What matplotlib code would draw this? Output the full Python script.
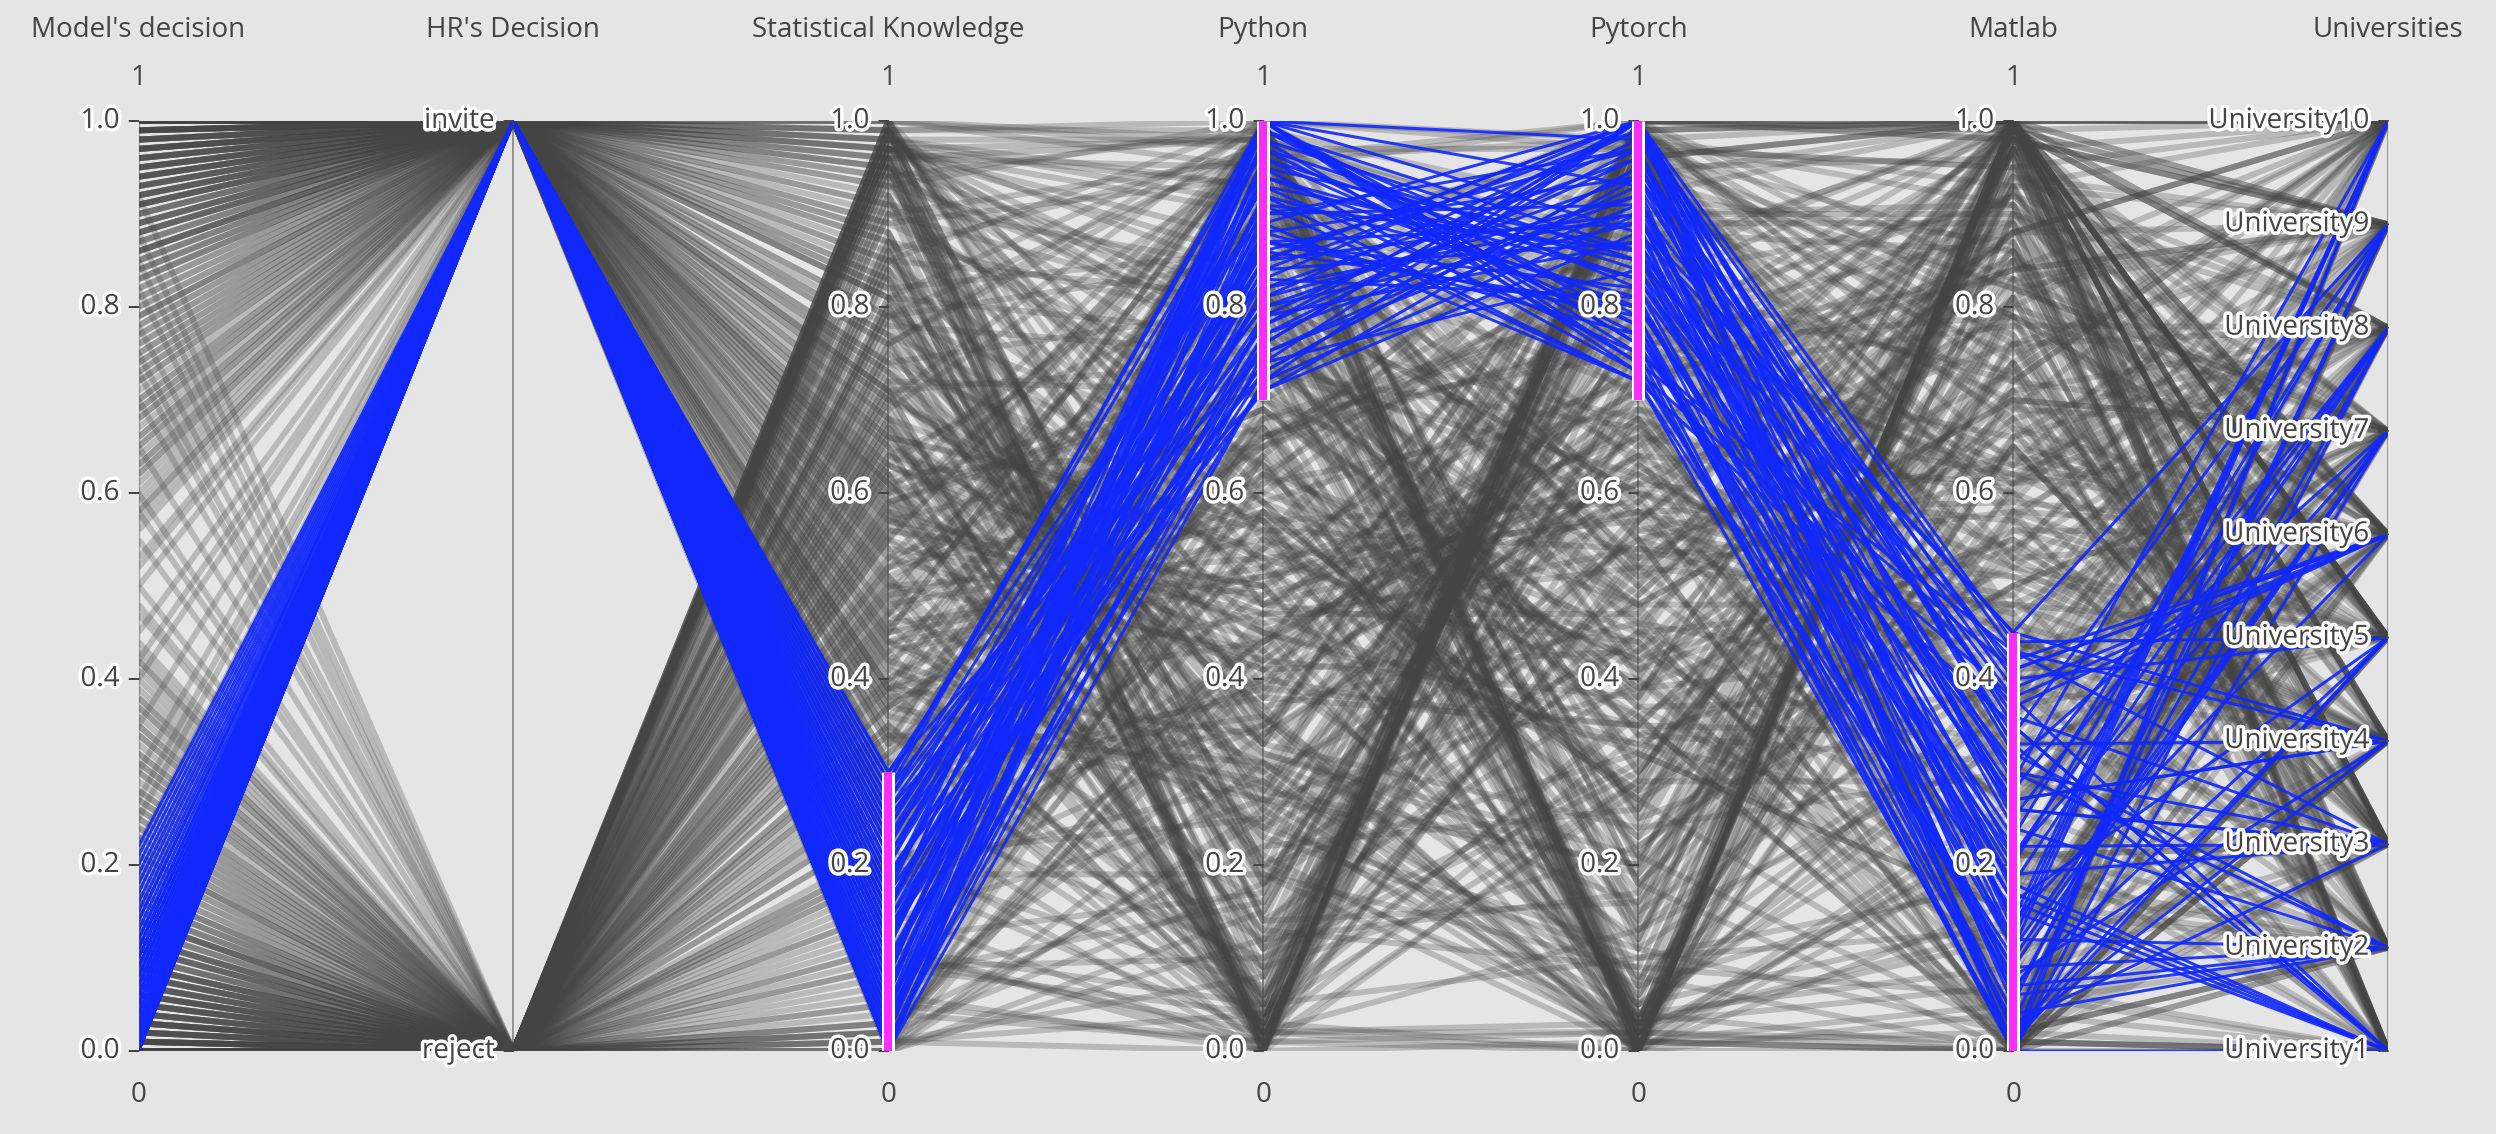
import numpy as np
import matplotlib.pyplot as plt
import matplotlib.patheffects as pe

plt.rcParams['font.family'] = ['Open Sans', 'DejaVu Sans']

axis_titles = ["Model's decision", "HR's Decision", "Statistical Knowledge",
               "Python", "Pytorch", "Matlab", "Universities"]
numeric_ticks = [0.0, 0.2, 0.4, 0.6, 0.8, 1.0]
hr_labels = ["reject", "invite"]
uni_labels = ["University%d" % i for i in range(1, 11)]

# brushed ranges (axis index, low, high)
brush_axes = [2, 3, 4, 5]
brush_low = [0.0, 0.70, 0.70, 0.0]
brush_high = [0.30, 1.0, 1.0, 0.45]

# ---- context (unselected) rows, skills in percent ----
model_gray = [
    98, 95, 100, 87, 92, 76, 99, 64, 90, 97, 83, 100, 71, 94, 88, 12, 96, 79, 99, 91,
    85, 100, 68, 93, 97, 58, 89, 100, 30, 95, 81, 99, 74, 92, 98, 86, 100, 62, 94, 45,
    97, 90, 100, 78, 84, 96, 22, 99, 70, 93, 100, 88, 66, 95, 91, 98, 35, 82, 100, 77,
    94, 99, 60, 87, 96, 100, 73, 18, 92, 98, 85, 100, 69, 94, 50, 97, 89, 100, 80, 93,
    99, 65, 96, 100, 84, 91, 8, 98, 75, 95, 100, 88, 57, 97, 92, 99, 40, 86, 100, 72,
    95, 98, 63, 90, 100, 79, 94, 27, 97, 83, 100, 91, 67, 96, 99, 86, 52, 93, 100, 89,
    2, 5, 0, 13, 8, 24, 1, 36, 10, 3, 17, 0, 29, 6, 12, 88, 4, 21, 1, 9,
    15, 0, 32, 7, 3, 42, 11, 0, 70, 5, 19, 1, 26, 8, 2, 14, 0, 38, 6, 55,
    3, 10, 0, 22, 16, 4, 78, 1, 30, 7, 0, 12, 34, 5, 9, 2, 65, 18, 0, 23,
    6, 1, 40, 13, 4, 0, 27, 82, 8, 2, 15, 0, 31, 6, 50, 3, 11, 0, 20, 7,
    1, 35, 4, 0, 16, 9, 92, 2, 25, 5, 0, 12, 43, 3, 8, 1, 60, 14, 0, 28,
    5, 2, 37, 10, 0, 21, 6, 73, 3, 17, 0, 9, 33, 4, 1, 14, 48, 7, 0, 11]
hr_gray = [
    1, 1, 1, 1, 1, 1, 1, 1, 1, 1, 1, 1, 1, 1, 1, 1, 1, 1, 1, 1,
    1, 1, 1, 1, 1, 1, 1, 1, 1, 1, 1, 1, 1, 1, 1, 1, 1, 1, 1, 1,
    1, 1, 1, 1, 1, 1, 1, 1, 1, 1, 1, 1, 1, 1, 1, 1, 1, 1, 1, 1,
    1, 1, 1, 1, 1, 1, 1, 1, 1, 1, 1, 1, 1, 1, 1, 1, 1, 1, 1, 1,
    1, 1, 1, 1, 1, 1, 1, 1, 1, 1, 1, 1, 1, 1, 1, 1, 1, 1, 1, 1,
    1, 1, 1, 1, 1, 1, 1, 1, 1, 1, 1, 1, 1, 1, 1, 1, 1, 1, 1, 1,
    0, 0, 0, 0, 0, 0, 0, 0, 0, 0, 0, 0, 0, 0, 0, 0, 0, 0, 0, 0,
    0, 0, 0, 0, 0, 0, 0, 0, 0, 0, 0, 0, 0, 0, 0, 0, 0, 0, 0, 0,
    0, 0, 0, 0, 0, 0, 0, 0, 0, 0, 0, 0, 0, 0, 0, 0, 0, 0, 0, 0,
    0, 0, 0, 0, 0, 0, 0, 0, 0, 0, 0, 0, 0, 0, 0, 0, 0, 0, 0, 0,
    0, 0, 0, 0, 0, 0, 0, 0, 0, 0, 0, 0, 0, 0, 0, 0, 0, 0, 0, 0,
    0, 0, 0, 0, 0, 0, 0, 0, 0, 0, 0, 0, 0, 0, 0, 0, 0, 0, 0, 0]
stat_gray = [
    99, 43, 7, 81, 56, 1, 92, 28, 65, 97, 14, 73, 38, 88, 51, 3, 22, 97, 61, 33,
    76, 100, 9, 47, 84, 19, 58, 98, 3, 70, 41, 95, 26, 0, 67, 53, 96, 12, 79, 35,
    90, 62, 2, 45, 99, 17, 83, 31, 71, 6, 94, 55, 24, 87, 1, 49, 93, 39, 64, 100,
    11, 77, 44, 97, 29, 86, 2, 60, 98, 36, 4, 72, 15, 99, 52, 81, 27, 68, 95, 8,
    57, 98, 34, 91, 0, 63, 20, 85, 46, 100, 74, 5, 39, 96, 59, 13, 89, 2, 42, 78,
    99, 25, 66, 1, 94, 37, 97, 50, 18, 82, 61, 100, 4, 71, 30, 96, 3, 54, 98, 23,
    48, 0, 87, 16, 95, 69, 32, 99, 9, 75, 2, 58, 92, 21, 100, 44, 80, 3, 63, 97,
    35, 98, 12, 79, 1, 51, 97, 26, 99, 67, 40, 5, 85, 14, 96, 56, 29, 90, 0, 72,
    100, 6, 60, 38, 97, 83, 19, 2, 47, 99, 94, 31, 65, 98, 8, 76, 1, 53, 95, 42,
    22, 99, 70, 3, 88, 45, 100, 11, 59, 33, 97, 80, 0, 27, 96, 98, 49, 64, 17, 99,
    74, 1, 37, 96, 55, 2, 91, 100, 28, 68, 4, 43, 99, 86, 10, 62, 97, 34, 0, 81,
    98, 50, 15, 93, 2, 71, 100, 24, 57, 95, 39, 5, 84, 99, 46, 1, 77, 97, 20, 66]
python_gray = [
    62, 1, 85, 31, 99, 47, 12, 76, 3, 93, 54, 28, 97, 8, 69, 41, 0, 87, 23, 58,
    98, 35, 4, 72, 50, 2, 96, 18, 64, 100, 27, 81, 1, 45, 11, 90, 57, 95, 33, 6,
    79, 0, 43, 99, 20, 66, 4, 88, 37, 52, 14, 97, 71, 2, 25, 95, 48, 3, 83, 98,
    1, 59, 30, 77, 100, 9, 46, 5, 91, 65, 96, 21, 0, 55, 84, 38, 99, 2, 70, 16,
    44, 98, 3, 63, 26, 89, 7, 100, 51, 1, 80, 34, 97, 0, 13, 68, 94, 40, 2, 75,
    19, 92, 56, 0, 99, 29, 73, 6, 42, 86, 5, 97, 61, 1, 36, 98, 22, 3, 78, 49,
    100, 15, 2, 67, 39, 96, 82, 0, 10, 53, 94, 4, 32, 99, 60, 24, 1, 87, 45, 98,
    0, 74, 17, 97, 58, 2, 90, 35, 100, 4, 66, 1, 81, 27, 95, 50, 3, 96, 12, 71,
    33, 0, 99, 44, 85, 5, 19, 62, 98, 1, 77, 38, 2, 93, 55, 100, 8, 69, 0, 28,
    97, 52, 3, 88, 14, 99, 41, 0, 73, 99, 1, 30, 64, 96, 6, 83, 2, 47, 100, 20,
    57, 4, 91, 25, 98, 70, 0, 36, 100, 11, 1, 79, 48, 97, 2, 65, 3, 86, 31, 99,
    2, 43, 76, 100, 18, 0, 95, 54, 98, 1, 34, 68, 5, 99, 9, 82, 0, 59, 96, 26]
pytorch_gray = [
    14, 88, 99, 1, 57, 32, 95, 3, 71, 46, 97, 20, 0, 83, 38, 64, 100, 5, 90, 27,
    2, 76, 52, 98, 11, 69, 0, 43, 97, 18, 4, 60, 100, 35, 86, 1, 23, 74, 96, 49,
    92, 99, 6, 55, 3, 81, 29, 97, 0, 66, 40, 2, 99, 13, 73, 1, 58, 100, 31, 87,
    98, 22, 0, 48, 77, 100, 5, 36, 15, 95, 63, 1, 89, 44, 2, 99, 70, 3, 53, 96,
    68, 0, 97, 17, 85, 41, 100, 2, 62, 28, 1, 93, 50, 98, 9, 75, 4, 33, 99, 58,
    100, 45, 3, 80, 21, 0, 67, 96, 38, 1, 91, 12, 99, 54, 0, 79, 26, 97, 7, 61,
    2, 84, 34, 0, 98, 56, 8, 100, 73, 5, 47, 99, 19, 1, 88, 65, 95, 30, 0, 42,
    76, 3, 100, 25, 1, 94, 51, 0, 97, 37, 82, 2, 60, 99, 3, 71, 0, 98, 45, 4,
    99, 29, 1, 66, 100, 10, 0, 87, 52, 96, 2, 35, 74, 0, 98, 18, 92, 3, 57, 100,
    40, 1, 97, 83, 16, 0, 69, 99, 24, 4, 95, 48, 2, 100, 63, 7, 0, 80, 98, 32,
    0, 100, 55, 3, 86, 39, 96, 1, 13, 72, 0, 99, 44, 97, 2, 27, 100, 64, 5, 90,
    53, 98, 0, 20, 78, 1, 100, 36, 3, 91, 59, 0, 99, 11, 68, 2, 97, 42, 85, 0]
matlab_gray = [
    100, 37, 1, 72, 88, 15, 58, 99, 84, 0, 43, 97, 26, 91, 100, 6, 67, 98, 31, 3,
    99, 79, 48, 93, 2, 62, 100, 21, 95, 54, 39, 0, 98, 74, 11, 100, 53, 4, 82, 86,
    28, 100, 65, 1, 99, 44, 97, 8, 77, 60, 0, 56, 100, 33, 92, 99, 19, 2, 71, 70,
    100, 50, 90, 2, 83, 98, 35, 0, 97, 61, 100, 24, 89, 3, 66, 46, 99, 13, 73, 100,
    1, 100, 57, 85, 29, 0, 99, 81, 42, 94, 5, 68, 100, 17, 96, 98, 0, 52, 76, 38,
    100, 10, 87, 64, 2, 99, 87, 31, 100, 0, 75, 98, 45, 100, 4, 60, 97, 1, 93, 79,
    23, 100, 3, 71, 91, 49, 0, 99, 85, 14, 100, 1, 66, 95, 36, 100, 0, 78, 98, 55,
    100, 7, 83, 40, 2, 100, 62, 97, 26, 90, 99, 0, 51, 100, 12, 89, 80, 4, 100, 34,
    69, 99, 0, 92, 47, 18, 100, 1, 88, 100, 58, 73, 3, 98, 74, 0, 100, 41, 86, 63,
    100, 27, 95, 2, 82, 100, 54, 0, 99, 9, 96, 70, 1, 100, 37, 94, 100, 0, 59, 81,
    16, 100, 1, 76, 99, 43, 100, 0, 65, 84, 22, 3, 100, 86, 97, 50, 0, 100, 30, 91,
    100, 2, 61, 93, 8, 100, 79, 0, 99, 45, 88, 0, 72, 100, 20, 97, 53, 1, 100, 90]
uni_gray = [
    3, 7, 1, 10, 5, 8, 2, 6, 9, 4, 10, 1, 7, 3, 5, 8, 2, 9, 6, 4,
    8, 2, 5, 9, 1, 6, 10, 3, 7, 4, 2, 9, 6, 1, 8, 5, 10, 3, 7, 4,
    6, 10, 3, 1, 8, 4, 7, 9, 2, 5, 1, 6, 10, 4, 8, 3, 9, 2, 5, 7,
    9, 4, 8, 2, 6, 1, 10, 5, 3, 7, 4, 8, 1, 6, 9, 2, 10, 7, 3, 5,
    1, 5, 9, 7, 3, 10, 4, 2, 8, 6, 7, 3, 5, 10, 1, 9, 6, 4, 2, 8,
    5, 8, 2, 4, 10, 7, 1, 9, 6, 3, 9, 5, 2, 8, 4, 10, 1, 7, 3, 6,
    10, 3, 6, 8, 2, 9, 5, 1, 4, 7, 3, 10, 8, 5, 7, 1, 2, 6, 9, 4,
    4, 1, 7, 5, 9, 3, 8, 10, 2, 6, 8, 2, 4, 9, 6, 5, 7, 1, 10, 3,
    7, 9, 4, 6, 1, 2, 3, 8, 10, 5, 6, 1, 9, 7, 3, 4, 8, 5, 2, 10,
    2, 6, 10, 3, 7, 5, 9, 4, 1, 8, 5, 7, 3, 1, 10, 8, 4, 9, 6, 2,
    8, 4, 1, 9, 5, 6, 2, 7, 3, 10, 1, 9, 6, 2, 4, 7, 10, 3, 8, 5,
    6, 2, 8, 4, 3, 10, 7, 5, 9, 1, 10, 5, 7, 3, 9, 2, 6, 8, 4, 1]

# second batch of context rows, mostly mid-range skill values
model_gray2 = [
    91, 76, 99, 84, 62, 95, 70, 88, 53, 97, 81, 93, 66, 100, 74, 89, 58, 96, 79, 86,
    94, 68, 99, 83, 15, 92, 77, 98, 61, 87, 95, 72, 100, 80, 56, 90, 97, 65, 85, 42,
    98, 73, 93, 88, 59, 96, 82, 100, 69, 91, 78, 99, 25, 86, 94, 63, 97, 75, 89, 92,
    9, 24, 1, 16, 38, 5, 30, 12, 47, 3, 19, 7, 34, 0, 26, 11, 42, 4, 21, 14,
    6, 32, 1, 17, 85, 8, 23, 2, 39, 13, 5, 28, 0, 20, 44, 10, 3, 35, 15, 58,
    2, 27, 7, 12, 41, 4, 18, 0, 31, 9, 22, 1, 75, 14, 6, 37, 3, 25, 11, 8]
hr_gray2 = [
    1, 1, 1, 1, 1, 1, 1, 1, 1, 1, 1, 1, 1, 1, 1, 1, 1, 1, 1, 1,
    1, 1, 1, 1, 1, 1, 1, 1, 1, 1, 1, 1, 1, 1, 1, 1, 1, 1, 1, 1,
    1, 1, 1, 1, 1, 1, 1, 1, 1, 1, 1, 1, 1, 1, 1, 1, 1, 1, 1, 1,
    0, 0, 0, 0, 0, 0, 0, 0, 0, 0, 0, 0, 0, 0, 0, 0, 0, 0, 0, 0,
    0, 0, 0, 0, 0, 0, 0, 0, 0, 0, 0, 0, 0, 0, 0, 0, 0, 0, 0, 0,
    0, 0, 0, 0, 0, 0, 0, 0, 0, 0, 0, 0, 0, 0, 0, 0, 0, 0, 0, 0]
stat_gray2 = [
    45, 68, 23, 81, 37, 59, 12, 74, 50, 89, 31, 63, 8, 77, 42, 55, 93, 19, 66, 34,
    71, 27, 58, 85, 14, 47, 79, 39, 62, 5, 53, 88, 25, 70, 36, 91, 17, 60, 44, 82,
    29, 65, 51, 10, 76, 40, 95, 22, 57, 83, 33, 69, 48, 16, 73, 38, 87, 61, 26, 54,
    80, 35, 64, 20, 92, 46, 7, 72, 41, 58, 86, 30, 67, 13, 52, 78, 43, 96, 24, 63,
    37, 84, 18, 56, 75, 49, 3, 66, 90, 28, 61, 45, 11, 79, 34, 70, 52, 21, 87, 40,
    15, 59, 73, 32, 94, 47, 68, 26, 81, 55, 9, 62, 39, 76, 50, 85, 19, 71, 44, 57]
python_gray2 = [
    58, 33, 77, 15, 62, 41, 86, 29, 53, 70, 9, 48, 92, 36, 65, 24, 81, 44, 57, 12,
    39, 74, 21, 56, 88, 31, 63, 47, 6, 79, 42, 18, 67, 52, 27, 84, 35, 71, 59, 23,
    66, 45, 13, 82, 38, 60, 26, 75, 50, 34, 91, 17, 55, 69, 43, 8, 78, 30, 64, 49,
    22, 87, 54, 40, 11, 72, 58, 33, 95, 46, 19, 68, 37, 83, 61, 27, 51, 14, 76, 42,
    63, 28, 80, 47, 35, 57, 90, 20, 66, 39, 73, 52, 5, 85, 31, 48, 69, 25, 59, 16,
    44, 71, 36, 62, 24, 89, 53, 10, 77, 41, 65, 32, 56, 18, 82, 45, 29, 74, 50, 67]
pytorch_gray2 = [
    27, 64, 49, 83, 36, 12, 71, 55, 40, 93, 22, 67, 51, 8, 78, 44, 30, 86, 59, 17,
    62, 41, 85, 28, 53, 75, 19, 47, 90, 34, 68, 56, 14, 80, 39, 25, 63, 48, 72, 10,
    88, 33, 58, 21, 66, 45, 79, 37, 6, 61, 52, 84, 29, 43, 70, 57, 15, 76, 35, 92,
    50, 18, 73, 60, 31, 87, 42, 24, 65, 54, 9, 81, 46, 38, 69, 20, 58, 94, 32, 74,
    41, 67, 26, 52, 83, 13, 59, 45, 77, 35, 62, 28, 89, 50, 16, 71, 39, 55, 23, 80,
    64, 37, 96, 48, 11, 73, 57, 30, 68, 43, 85, 21, 54, 78, 34, 61, 7, 46, 90, 26]
matlab_gray2 = [
    70, 42, 85, 18, 56, 93, 31, 64, 9, 77, 48, 22, 88, 37, 61, 14, 79, 52, 26, 95,
    40, 67, 11, 83, 58, 33, 74, 5, 90, 46, 19, 63, 81, 28, 55, 97, 36, 70, 44, 13,
    86, 24, 59, 76, 3, 49, 92, 38, 65, 17, 80, 53, 29, 71, 8, 94, 41, 62, 34, 87,
    20, 57, 78, 45, 99, 12, 68, 30, 84, 51, 6, 73, 39, 91, 25, 60, 47, 82, 15, 66,
    54, 35, 89, 21, 72, 43, 98, 27, 63, 10, 76, 50, 32, 85, 58, 4, 69, 42, 93, 23,
    61, 16, 79, 48, 37, 96, 26, 74, 52, 83, 7, 65, 44, 88, 31, 57, 19, 81, 40, 68]
uni_gray2 = [
    4, 9, 2, 7, 5, 10, 1, 6, 8, 3, 7, 2, 10, 5, 9, 4, 1, 8, 6, 3,
    9, 6, 3, 1, 8, 5, 10, 2, 7, 4, 2, 8, 5, 10, 3, 6, 9, 1, 4, 7,
    5, 1, 10, 8, 4, 2, 6, 9, 3, 7, 10, 4, 7, 2, 6, 9, 1, 5, 8, 3,
    6, 3, 8, 10, 1, 7, 4, 2, 9, 5, 1, 10, 4, 6, 8, 3, 7, 9, 2, 5,
    8, 5, 1, 3, 10, 9, 2, 7, 6, 4, 3, 7, 9, 1, 5, 8, 10, 4, 2, 6,
    10, 2, 6, 4, 7, 1, 8, 3, 5, 9, 4, 6, 2, 9, 1, 5, 3, 10, 7, 8]

# ---- selected rows (inside every brush) ----
model_blue = [
    3, 8, 1, 12, 5, 0, 18, 6, 2, 10, 4, 15, 7, 1, 21, 9, 3, 0, 13, 6,
    2, 11, 5, 8, 0, 16, 4, 7, 1, 19, 3, 9, 6, 2, 14, 0, 5, 10, 1, 8,
    4, 22, 7, 2, 11, 6, 0, 9, 3, 17, 5, 1, 12, 8, 2, 6, 20, 4, 10, 0,
    7, 3, 14, 1, 9, 5, 2, 11, 6, 4]
hr_blue = [
    1, 1, 1, 1, 1, 1, 1, 1, 1, 1, 1, 1, 1, 1, 1, 1, 1, 1, 1, 1,
    1, 1, 1, 1, 1, 1, 1, 1, 1, 1, 1, 1, 1, 1, 1, 1, 1, 1, 1, 1,
    1, 1, 1, 1, 1, 1, 1, 1, 1, 1, 1, 1, 1, 1, 1, 1, 1, 1, 1, 1,
    1, 1, 1, 1, 1, 1, 1, 1, 1, 1]
stat_blue = [
    12, 25, 3, 18, 0, 29, 7, 21, 15, 1, 27, 10, 5, 23, 14, 0, 19, 8, 30, 4,
    16, 2, 26, 11, 20, 6, 28, 13, 0, 22, 9, 17, 3, 24, 12, 5, 29, 15, 1, 20,
    8, 26, 14, 0, 18, 10, 23, 4, 27, 7, 16, 2, 21, 11, 30, 6, 13, 19, 0, 25,
    9, 3, 17, 28, 5, 22, 12, 1, 15, 24]
python_blue = [
    94, 78, 100, 85, 72, 97, 88, 81, 100, 75, 91, 83, 99, 73, 87, 95, 79, 100, 90, 76,
    84, 98, 71, 92, 86, 100, 80, 74, 96, 89, 82, 100, 77, 93, 85, 72, 99, 88, 79, 95,
    100, 83, 76, 91, 97, 73, 87, 100, 81, 94, 78, 90, 86, 100, 75, 98, 84, 71, 92, 80,
    96, 89, 74, 100, 82, 93, 77, 87, 99, 85]
pytorch_blue = [
    80, 96, 73, 90, 100, 84, 77, 99, 88, 93, 72, 100, 82, 95, 79, 86, 98, 75, 91, 100,
    87, 74, 94, 81, 97, 78, 89, 100, 83, 72, 96, 76, 92, 85, 100, 90, 79, 94, 87, 73,
    98, 81, 100, 86, 77, 95, 89, 74, 92, 83, 100, 97, 80, 76, 91, 85, 99, 88, 72, 94,
    78, 100, 84, 93, 90, 75, 97, 82, 86, 100]
matlab_blue = [
    22, 5, 38, 14, 0, 30, 9, 43, 18, 2, 35, 26, 11, 41, 7, 20, 33, 0, 16, 44,
    28, 3, 39, 12, 24, 8, 45, 17, 31, 1, 36, 21, 6, 42, 13, 27, 0, 34, 19, 10,
    40, 4, 25, 37, 15, 29, 2, 43, 11, 23, 32, 7, 18, 0, 38, 26, 14, 45, 9, 21,
    3, 35, 16, 30, 6, 41, 12, 27, 1, 33]
uni_blue = [
    3, 9, 1, 6, 10, 2, 7, 4, 8, 5, 1, 3, 10, 6, 2, 9, 4, 7, 1, 5,
    8, 3, 6, 10, 2, 4, 9, 1, 7, 5, 3, 8, 2, 6, 10, 4, 1, 9, 3, 7,
    5, 2, 8, 6, 1, 10, 4, 3, 7, 9, 2, 5, 1, 8, 6, 3, 10, 4, 2, 7,
    9, 1, 5, 3, 8, 6, 2, 4, 10, 1]


def to_unit(model, hr, stat, py, pt, ml, uni):
    # every axis mapped onto 0..1
    return np.column_stack([np.array(model) / 100, np.array(hr, dtype=float),
                            np.array(stat) / 100, np.array(py) / 100,
                            np.array(pt) / 100, np.array(ml) / 100,
                            (np.array(uni) - 1) / 9])


gray_rows = np.vstack([
    to_unit(model_gray, hr_gray, stat_gray, python_gray,
            pytorch_gray, matlab_gray, uni_gray),
    to_unit(model_gray2, hr_gray2, stat_gray2, python_gray2,
            pytorch_gray2, matlab_gray2, uni_gray2)])
blue_rows = to_unit(model_blue, hr_blue, stat_blue, python_blue,
                    pytorch_blue, matlab_blue, uni_blue)

PX = 0.72  # points per pixel at dpi 100
TXT = '#444444'
BG = '#e5e5e5'
FS = 20

fig = plt.figure(figsize=(24.96, 11.34), dpi=100, facecolor=BG)
ax = fig.add_axes([138.5 / 2496, 83 / 1134, 2249.5 / 2496, 930 / 1134])
ax.set_facecolor(BG)
ax.set_xlim(0, 6)
ax.set_ylim(0, 1)
ax.axis('off')

xs = np.arange(7)
for row in gray_rows:
    ax.plot(xs, row, color='#444444', alpha=0.27, lw=6 * PX, zorder=1,
            solid_capstyle='butt')
for row in blue_rows:
    ax.plot(xs, row, color='#1028ff', alpha=0.9, lw=3 * PX, zorder=3,
            solid_capstyle='butt')

halo = [pe.withStroke(linewidth=5, foreground='white')]

for i, title in enumerate(axis_titles):
    ax.plot([i, i], [0, 1], color='#444444', alpha=0.5, lw=2 * PX, zorder=4)
    ax.text(i, 1.098, title, ha='center', va='center', fontsize=FS,
            color=TXT, clip_on=False)
    if i == 1:
        ticks, labels = [0, 1], hr_labels
    elif i == 6:
        ticks = [k / 9 for k in range(10)]
        labels = uni_labels
    else:
        ticks = numeric_ticks
        labels = ['%.1f' % t for t in ticks]
        ax.text(i, 1.046, '1', ha='center', va='center', fontsize=FS,
                color=TXT, clip_on=False)
        ax.text(i, -0.047, '0', ha='center', va='center', fontsize=FS,
                color=TXT, clip_on=False)
    for t, lab in zip(ticks, labels):
        ax.annotate('', xy=(i, t), xytext=(-9 * PX, 0),
                    textcoords='offset points', annotation_clip=False,
                    arrowprops=dict(arrowstyle='-', color=TXT, lw=2 * PX,
                                    shrinkA=0, shrinkB=0), zorder=5)
        ax.annotate(lab, xy=(i, t), xytext=(-19 * PX, 0),
                    textcoords='offset points', ha='right', va='center',
                    fontsize=FS, color=TXT, path_effects=halo,
                    annotation_clip=False, zorder=6)

for a, lo, hi in zip(brush_axes, brush_low, brush_high):
    ax.plot([a, a], [lo, hi], color='white', lw=13 * PX, zorder=7,
            solid_capstyle='butt')
    ax.plot([a, a], [lo, hi], color='#ff2cff', lw=8 * PX, zorder=8,
            solid_capstyle='butt')

fig.savefig('out.png', dpi=100, facecolor=BG)
